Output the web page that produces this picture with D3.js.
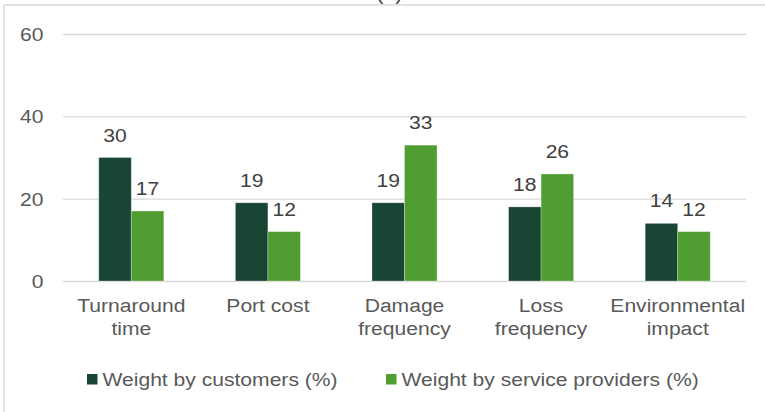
<!DOCTYPE html>
<html>
<head>
<meta charset="utf-8">
<script src="https://cdn.jsdelivr.net/npm/d3@7"></script>
<style>
  html, body { margin: 0; padding: 0; background: #fff; }
  svg { display: block; }
  text { font-family: "Liberation Sans", Arial, sans-serif; }
</style>
</head>
<body>
<svg id="chart" width="765" height="412"></svg>
<script>
// Criteria and the weights given by each group (%)
const categories = ["Turnaround\ntime", "Port cost", "Damage\nfrequency", "Loss\nfrequency", "Environmental\nimpact"];
const customers = [30, 19, 19, 18, 14];
const providers = [17, 12, 33, 26, 12];
const seriesNames = ["Weight by customers (%)", "Weight by service providers (%)"];
const seriesColors = ["#194634", "#509d32"];
const yTicks = [0, 20, 40, 60];
const panelLabel = "(a)";

const svg = d3.select("#chart");
const W = 765, H = 412;
const textScaleX = 1.11;
const fontSize = 19;

const plot = { left: 63, right: 746, top: 34, bottom: 281 };

const x = d3.scaleBand().domain(d3.range(categories.length)).range([plot.left, plot.right]).padding(0);
const groupW = x.bandwidth() * 0.476;
const xs = d3.scaleBand().domain([0, 1]).range([-groupW / 2, groupW / 2]).padding(0);
const y = d3.scaleLinear().domain([0, 60]).range([plot.bottom, plot.top]);

// Frame lines
svg.append("line").attr("x1", 4).attr("x2", W).attr("y1", 5).attr("y2", 5)
  .attr("stroke", "#d9d9d9").attr("stroke-width", 1.3);
svg.append("line").attr("x1", 4).attr("x2", 4).attr("y1", 5).attr("y2", H)
  .attr("stroke", "#d9d9d9").attr("stroke-width", 1.3);

// Panel label, mostly above the frame
svg.append("text").attr("transform", `translate(389.5,0) scale(${textScaleX},1)`)
  .attr("text-anchor", "middle").attr("font-size", fontSize).attr("fill", "#404040").text(panelLabel);

// Gridlines and y axis labels
const yAxis = d3.axisLeft(y).tickValues(yTicks).tickSize(0).tickPadding(0);
const gy = svg.append("g").attr("transform", `translate(${plot.left},0)`).call(yAxis);
gy.select(".domain").remove();
gy.selectAll(".tick text").remove();
gy.selectAll(".tick").append("line").attr("x1", 0).attr("x2", plot.right - plot.left)
  .attr("stroke", "#d9d9d9").attr("stroke-width", 1.3);
gy.selectAll(".tick").append("text")
  .attr("transform", `translate(-19.5,0) scale(${textScaleX},1)`)
  .attr("dy", "0.35em").attr("text-anchor", "end")
  .attr("font-size", fontSize).attr("fill", "#595959")
  .text(d => d);

// Bars
const series = [customers, providers];
series.forEach((vals, si) => {
  const g = svg.append("g");
  g.selectAll("rect").data(vals).join("rect")
    .attr("x", (d, i) => x(i) + x.bandwidth() / 2 + xs(si))
    .attr("width", xs.bandwidth())
    .attr("y", d => y(d))
    .attr("height", d => y(0) - y(d))
    .attr("fill", seriesColors[si])
    .attr("stroke", "#ffffff").attr("stroke-opacity", 0.35).attr("stroke-width", 0.8);
  g.selectAll("text").data(vals).join("text")
    .attr("transform", (d, i) => `translate(${x(i) + x.bandwidth() / 2 + xs(si) + xs.bandwidth() / 2},${y(d) - 16}) scale(${textScaleX},1)`)
    .attr("text-anchor", "middle").attr("font-size", fontSize).attr("fill", "#404040")
    .text(d => d);
});

// Category labels
const gx = svg.append("g");
categories.forEach((c, i) => {
  const t = gx.append("text")
    .attr("transform", `translate(${x(i) + x.bandwidth() / 2},312) scale(${textScaleX},1)`)
    .attr("text-anchor", "middle").attr("font-size", fontSize).attr("fill", "#595959");
  c.split("\n").forEach((line, li) => {
    t.append("tspan").attr("x", 0).attr("y", li * 23).text(line);
  });
});

// Legend
const legendX = [87, 386];
seriesNames.forEach((name, si) => {
  const lg = svg.append("g").attr("transform", `translate(${legendX[si]},374)`);
  lg.append("rect").attr("width", 10.5).attr("height", 10.5).attr("fill", seriesColors[si]);
  lg.append("text").attr("transform", `translate(15.5,11.5) scale(${textScaleX},1)`)
    .attr("font-size", fontSize).attr("fill", "#595959").text(name);
});
</script>
</body>
</html>
